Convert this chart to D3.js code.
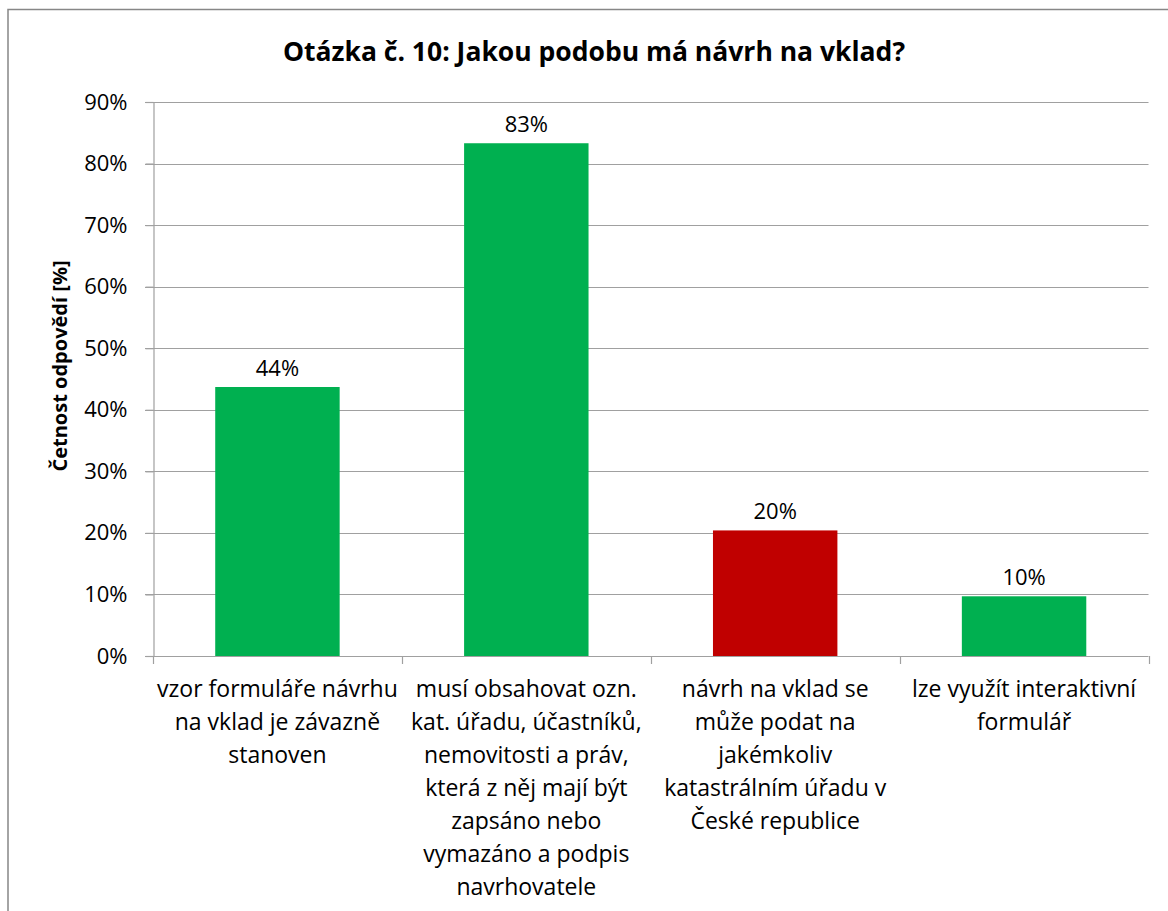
<!DOCTYPE html>
<html><head><meta charset="utf-8">
<script src="https://cdn.jsdelivr.net/npm/d3@7"></script>
<style>
html,body{margin:0;padding:0;background:#fff;}
svg{display:block;font-family:"Open Sans",Lato,sans-serif;}
</style></head>
<body>
<script>
const title = "Otázka č. 10: Jakou podobu má návrh na vklad?";
const yAxisTitle = "Četnost odpovědí [%]";
const categories = [
  "vzor formuláře návrhu\nna vklad je závazně\nstanoven",
  "musí obsahovat ozn.\nkat. úřadu, účastníků,\nnemovitosti a práv,\nkterá z něj mají být\nzapsáno nebo\nvymazáno a podpis\nnavrhovatele",
  "návrh na vklad se\nmůže podat na\njakémkoliv\nkatastrálním úřadu v\nČeské republice",
  "lze využít interaktivní\nformulář"
];
const values = [0.437, 0.833, 0.204, 0.097];
const valueLabels = ["44%", "83%", "20%", "10%"];
const barColors = ["#00B050", "#00B050", "#C00000", "#00B050"];
const yTicks = [0, 0.1, 0.2, 0.3, 0.4, 0.5, 0.6, 0.7, 0.8, 0.9];

const W = 1168, H = 911;
const svg = d3.select("body").append("svg").attr("width", W).attr("height", H);

// outer chart border
svg.append("rect").attr("x", 8).attr("y", 9.5).attr("width", 1200).attr("height", 1000)
  .attr("fill", "none").attr("stroke", "#878787").attr("stroke-width", 1.5);

const x = d3.scaleBand().domain(d3.range(categories.length))
  .range([153, 1148.5]).paddingInner(0.5).paddingOuter(0.25);
const y = d3.scaleLinear().domain([0, 0.9]).range([656, 102]);

// gridlines
svg.append("g").selectAll("line").data(yTicks.slice(1)).join("line")
  .attr("x1", 145).attr("x2", 1148.5)
  .attr("y1", d => Math.round(y(d)) + 0.5).attr("y2", d => Math.round(y(d)) + 0.5)
  .attr("stroke", "#a0a0a0").attr("stroke-width", 1.2);

// bars
svg.append("g").selectAll("rect").data(values).join("rect")
  .attr("x", (d, i) => x(i)).attr("width", x.bandwidth())
  .attr("y", d => y(d)).attr("height", d => y(0) - y(d))
  .attr("fill", (d, i) => barColors[i]);

// y axis
const yAxis = d3.axisLeft(y).tickValues(yTicks).tickFormat(d3.format(".0%")).tickSize(8).tickPadding(18);
const gy = svg.append("g").attr("transform", "translate(153.5,0)").call(yAxis);
gy.select(".domain").attr("stroke", "#a0a0a0").attr("stroke-width", 1.2);
gy.selectAll(".tick line").attr("stroke", "#a0a0a0").attr("stroke-width", 1.2);
gy.selectAll(".tick text").attr("font-size", 22).attr("fill", "#000").attr("font-family", "Open Sans");

// x axis line + ticks at category boundaries
svg.append("line").attr("x1", 145).attr("x2", 1148.5).attr("y1", 656.5).attr("y2", 656.5)
  .attr("stroke", "#a0a0a0").attr("stroke-width", 1.2);
const bounds = d3.range(categories.length + 1).map(i => 153 + i * x.step());
svg.append("g").selectAll("line").data(bounds).join("line")
  .attr("x1", d => Math.round(d) + 0.5).attr("x2", d => Math.round(d) + 0.5)
  .attr("y1", 656).attr("y2", 664)
  .attr("stroke", "#a0a0a0").attr("stroke-width", 1.2);

// category labels
const gx = svg.append("g");
categories.forEach((c, i) => {
  const t = gx.append("text").attr("text-anchor", "middle").attr("font-size", 23)
    .attr("fill", "#000").attr("x", x(i) + x.bandwidth() / 2).attr("y", 697);
  c.split("\n").forEach((line, j) => {
    t.append("tspan").attr("x", x(i) + x.bandwidth() / 2).attr("dy", j === 0 ? 0 : 33).text(line);
  });
});

// value labels
svg.append("g").selectAll("text").data(values).join("text")
  .attr("x", (d, i) => x(i) + x.bandwidth() / 2).attr("y", d => y(d) - 11)
  .attr("text-anchor", "middle").attr("font-size", 22).attr("fill", "#000")
  .text((d, i) => valueLabels[i]);

// title
svg.append("text").attr("x", 594).attr("y", 61).attr("text-anchor", "middle")
  .attr("font-size", 26.5).attr("font-weight", "bold").attr("fill", "#000").text(title);

// y axis title
svg.append("text").attr("transform", "translate(67,366) rotate(-90)").attr("text-anchor", "middle")
  .attr("font-size", 20).attr("font-weight", "bold").attr("fill", "#000").text(yAxisTitle);
</script>
</body></html>
